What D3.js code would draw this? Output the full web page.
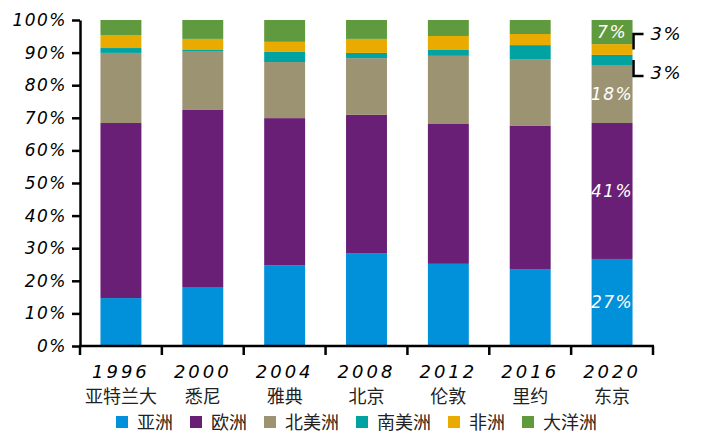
<!DOCTYPE html>
<html>
<head>
<meta charset="utf-8">
<script src="https://cdn.jsdelivr.net/npm/d3@7"></script>
<style>
  body { margin: 0; background: #fff; }
  .num { font-family: "DejaVu Sans", sans-serif; font-style: italic; letter-spacing: 1.5px; }
  .cjk { font-family: "Noto Sans CJK SC", sans-serif; }
</style>
</head>
<body>
<svg id="chart" width="720" height="442"></svg>
<script>
// share of medals by continent, per games
var years = ['1996', '2000', '2004', '2008', '2012', '2016', '2020'];
var cities = ['亚特兰大', '悉尼', '雅典', '北京', '伦敦', '里约', '东京'];
var regions = ['亚洲', '欧洲', '北美洲', '南美洲', '非洲', '大洋洲'];
var colors = ['#0091DA', '#6A1F76', '#9C9373', '#00A3A1', '#EAAB00', '#609A3F'];

var asia = [14.7, 18.1, 24.8, 28.5, 25.2, 23.6, 26.7];
var europe = [53.7, 54.3, 45.1, 42.4, 42.9, 43.9, 41.7];
var northAmerica = [21.5, 18.1, 17.2, 17.4, 20.9, 20.5, 17.8];
var southAmerica = [1.5, 0.3, 3.1, 1.6, 1.8, 4.3, 3.1];
var africa = [4.0, 3.4, 3.1, 4.3, 4.3, 3.4, 3.3];
var oceania = [4.6, 5.8, 6.7, 5.8, 4.9, 4.3, 7.4];

// labels on the last (2020) bar
var labels2020 = ['27%', '41%', '18%', '3%', '3%', '7%'];
var yTicks = [0, 10, 20, 30, 40, 50, 60, 70, 80, 90, 100];

var series = [asia, europe, northAmerica, southAmerica, africa, oceania];
var rows = years.map(function(y, i) {
  var r = {year: y};
  regions.forEach(function(reg, k) { r[reg] = series[k][i]; });
  return r;
});

var margin = {top: 20, right: 67, bottom: 96, left: 80};
var svg = d3.select('#chart');
var W = 720, H = 442;

var x = d3.scaleBand()
  .domain(years)
  .range([margin.left, W - margin.right])
  .paddingInner(0.5)
  .paddingOuter(0.25);

var y = d3.scaleLinear()
  .domain([0, 100])
  .range([H - margin.bottom, margin.top]);

var stacked = d3.stack().keys(regions)(rows);

svg.append('g').selectAll('g')
  .data(stacked)
  .enter().append('g')
  .attr('fill', function(d, i) { return colors[i]; })
  .selectAll('rect')
  .data(function(d) { return d; })
  .enter().append('rect')
  .attr('x', function(d) { return x(d.data.year); })
  .attr('width', x.bandwidth())
  .attr('y', function(d) { return y(d[1]); })
  .attr('height', function(d) { return y(d[0]) - y(d[1]); });

// y axis
var yAxis = svg.append('g')
  .attr('transform', 'translate(' + margin.left + ',0)')
  .call(d3.axisLeft(y).tickValues(yTicks).tickSize(8).tickSizeOuter(0).tickPadding(5)
    .tickFormat(function(d) { return d + '%'; }));
yAxis.select('.domain').attr('stroke', '#000').attr('stroke-width', 2.5);
yAxis.selectAll('.tick line').attr('stroke', '#000').attr('stroke-width', 2.5);
yAxis.selectAll('.tick text').attr('class', 'num').attr('font-size', 17).attr('fill', '#000');

// x axis: line with ticks between the categories
var x0 = x.range()[0], x1 = x.range()[1], step = x.step();
var xg = svg.append('g');
xg.append('line')
  .attr('x1', x0 - 1).attr('x2', x1 + 1)
  .attr('y1', y(0)).attr('y2', y(0))
  .attr('stroke', '#000').attr('stroke-width', 2.5);
xg.selectAll('.xt')
  .data(d3.range(years.length + 1))
  .enter().append('line')
  .attr('x1', function(i) { return x0 + i * step; })
  .attr('x2', function(i) { return x0 + i * step; })
  .attr('y1', y(0)).attr('y2', y(0) + 9)
  .attr('stroke', '#000').attr('stroke-width', 2.5);
xg.selectAll('.yr')
  .data(years)
  .enter().append('text')
  .attr('class', 'num')
  .attr('x', function(d) { return x(d) + x.bandwidth() / 2; })
  .attr('y', y(0) + 32)
  .attr('text-anchor', 'middle')
  .attr('font-size', 18)
  .style('letter-spacing', '3px')
  .text(function(d) { return d; });
xg.selectAll('.city')
  .data(cities)
  .enter().append('text')
  .attr('class', 'cjk')
  .attr('x', function(d, i) { return x(years[i]) + x.bandwidth() / 2; })
  .attr('y', y(0) + 57)
  .attr('text-anchor', 'middle')
  .attr('font-size', 18)
  .attr('fill', '#222')
  .text(function(d) { return d; });

// value labels inside the 2020 bar
var last = years.length - 1;
var cx = x(years[last]) + x.bandwidth() / 2;
[0, 1, 2, 5].forEach(function(k) {
  var seg = stacked[k][last];
  svg.append('text')
    .attr('class', 'num')
    .attr('x', cx)
    .attr('y', (y(seg[0]) + y(seg[1])) / 2 + 6)
    .attr('text-anchor', 'middle')
    .attr('font-size', 17)
    .attr('fill', '#fff')
    .text(labels2020[k]);
});

// brackets for the small segments
var bx = x(years[last]) + x.bandwidth() + 1;
var af = stacked[4][last], sa = stacked[3][last];
var bk = [
  {top: y(af[1]) - 10, bot: (y(af[0]) + y(af[1])) / 2, hy: y(af[1]) - 10, ty: y(af[1]) - 4, txt: labels2020[4]},
  {top: (y(sa[0]) + y(sa[1])) / 2, bot: y(sa[0]) + 11, hy: y(sa[0]) + 11, ty: y(sa[0]) + 14, txt: labels2020[3]}
];
bk.forEach(function(b) {
  svg.append('path')
    .attr('d', 'M' + (bx + 10) + ',' + b.hy + 'H' + bx + (b.hy === b.top ? 'V' + b.bot : 'V' + b.top)
      + (b.hy === b.top ? '' : 'M' + bx + ',' + b.bot))
    .attr('fill', 'none').attr('stroke', '#000').attr('stroke-width', 2.5);
  svg.append('text')
    .attr('class', 'num')
    .attr('x', bx + 17)
    .attr('y', b.ty)
    .attr('font-size', 18)
    .text(b.txt);
});

// legend
var lg = svg.append('g');
var lx = 116, ly = y(0) + 76;
regions.forEach(function(r, i) {
  lg.append('rect')
    .attr('x', lx).attr('y', ly - 6)
    .attr('width', 12).attr('height', 12)
    .attr('fill', colors[i]);
  var t = lg.append('text')
    .attr('class', 'cjk')
    .attr('x', lx + 21).attr('y', ly + 7)
    .attr('font-size', 18)
    .attr('fill', '#222')
    .text(r);
  lx += 21 + t.node().getComputedTextLength() + 17;
});
</script>
</body>
</html>
